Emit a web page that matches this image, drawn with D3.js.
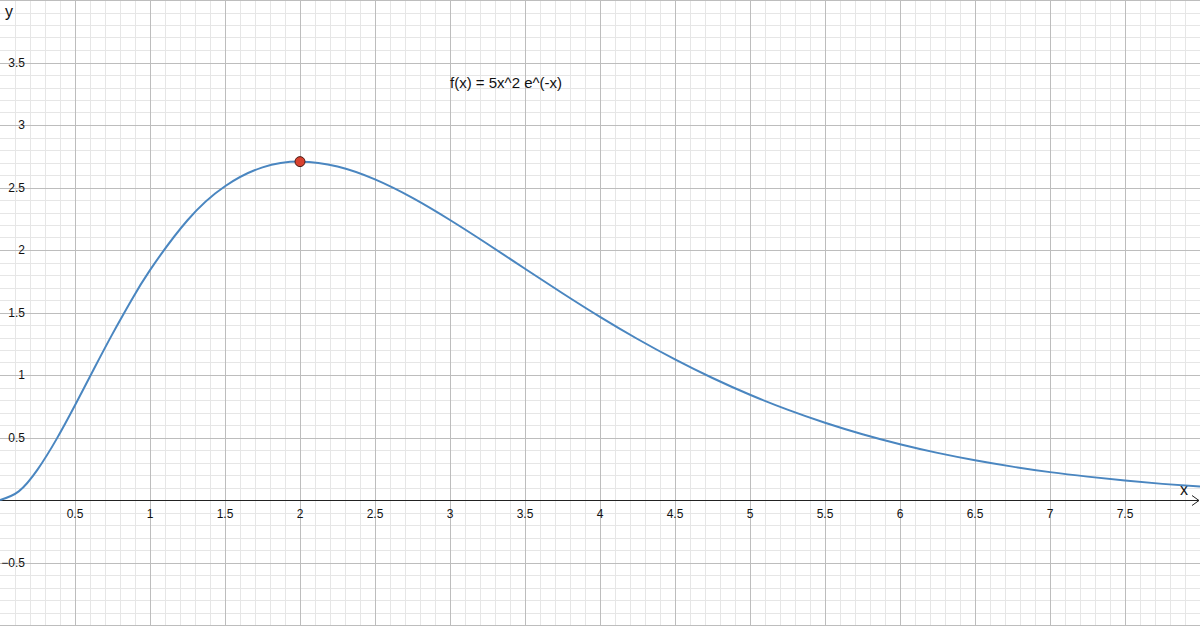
<!DOCTYPE html>
<html lang="en">
<head>
    <meta charset="UTF-8">
    <title>f(x) = 5x^2 e^(-x)</title>
    <script src="https://d3js.org/d3.v7.min.js"></script>
    <style>
        html, body { margin: 0; padding: 0; background: #fff; }
        svg { display: block; }
        text { font-family: "Liberation Sans", Arial, Helvetica, sans-serif; fill: #111; }
        .minor { stroke: #e6e6e6; stroke-width: 1; }
        .major { stroke: #bdbdbd; stroke-width: 1; }
    </style>
</head>
<body>
    <svg width="1200" height="626"></svg>

    <script>
        const xs = [0, 0.125, 0.25, 0.375, 0.5, 0.625, 0.75, 0.875, 1, 1.25, 1.5, 1.75, 2, 2.25, 2.5, 2.75,
                    3, 3.25, 3.5, 3.75, 4, 4.25, 4.5, 4.75, 5, 5.25, 5.5, 5.75, 6, 6.25, 6.5, 6.75,
                    7, 7.25, 7.5, 7.75, 8];
        const ys = [0, 0.069, 0.243, 0.483, 0.758, 1.046, 1.329, 1.596, 1.839, 2.238, 2.510, 2.661,
                    2.707, 2.668, 2.565, 2.417, 2.240, 2.048, 1.850, 1.654, 1.465, 1.288, 1.125,
                    0.976, 0.842, 0.723, 0.618, 0.526, 0.446, 0.377, 0.318, 0.267, 0.223, 0.187,
                    0.156, 0.129, 0.107];
        const peak = { x: 2, y: 2.707 };

        const xTickLabels = ["0.5", "1", "1.5", "2", "2.5", "3", "3.5", "4", "4.5", "5", "5.5", "6", "6.5", "7", "7.5"];
        const yTickLabels = ["−0.5", "0.5", "1", "1.5", "2", "2.5", "3", "3.5"];
        const title = "f(x) = 5x^2 e^(-x)";

        const W = 1200, H = 626;
        const svg = d3.select("svg");

        // 150px per unit on x, 125px per unit on y
        const x = d3.scaleLinear().domain([0, 8]).range([0, W]);
        const y = d3.scaleLinear().domain([-1.008, 4]).range([H, 0]);

        // grid: minor every 0.1, major every 0.5
        const grid = svg.append("g");
        const minorX = d3.range(1, 81).map(i => i / 10);
        const minorY = d3.range(-10, 41).map(i => i / 10);

        grid.selectAll("line.mx")
            .data(minorX.filter((d, i) => (i + 1) % 5 !== 0))
            .enter().append("line")
            .attr("class", "minor")
            .attr("x1", d => Math.round(x(d)) + 0.5).attr("x2", d => Math.round(x(d)) + 0.5)
            .attr("y1", 0).attr("y2", H);

        grid.selectAll("line.my")
            .data(minorY.filter(d => Math.round(d * 10) % 5 !== 0))
            .enter().append("line")
            .attr("class", "minor")
            .attr("y1", d => Math.round(y(d)) + 0.5).attr("y2", d => Math.round(y(d)) + 0.5)
            .attr("x1", 0).attr("x2", W);

        grid.selectAll("line.Mx")
            .data(d3.range(1, 16).map(i => i / 2))
            .enter().append("line")
            .attr("class", "major")
            .attr("x1", d => Math.round(x(d)) + 0.5).attr("x2", d => Math.round(x(d)) + 0.5)
            .attr("y1", 0).attr("y2", H);

        grid.selectAll("line.My")
            .data([-1, -0.5, 0.5, 1, 1.5, 2, 2.5, 3, 3.5, 4])
            .enter().append("line")
            .attr("class", "major")
            .attr("y1", d => Math.round(y(d)) + 0.5).attr("y2", d => Math.round(y(d)) + 0.5)
            .attr("x1", 0).attr("x2", W);

        // x axis with arrow
        const y0 = Math.round(y(0)) + 0.5;
        svg.append("line")
            .attr("x1", 0).attr("x2", W - 1)
            .attr("y1", y0).attr("y2", y0)
            .attr("stroke", "#222").attr("stroke-width", 1);
        svg.append("path")
            .attr("d", `M${W - 8},${y0 - 5} L${W - 1},${y0} L${W - 8},${y0 + 5}`)
            .attr("fill", "none").attr("stroke", "#222").attr("stroke-width", 1);

        // tick labels
        svg.append("g").selectAll("text")
            .data(xTickLabels)
            .enter().append("text")
            .attr("x", d => x(+d))
            .attr("y", y0 + 17)
            .attr("text-anchor", "middle")
            .attr("font-size", 12)
            .text(d => d);

        svg.append("g").selectAll("text")
            .data(yTickLabels)
            .enter().append("text")
            .attr("x", 25)
            .attr("y", d => y(+d.replace("−", "-")))
            .attr("dy", "0.35em")
            .attr("text-anchor", "end")
            .attr("font-size", 12)
            .text(d => d);

        // axis names
        svg.append("text").attr("x", 5).attr("y", 17).attr("font-size", 16).text("y");
        svg.append("text").attr("x", 1180).attr("y", 495).attr("font-size", 16).text("x");

        // curve
        const line = d3.line()
            .x(d => x(d[0]))
            .y(d => y(d[1]))
            .curve(d3.curveNatural);

        svg.append("path")
            .datum(xs.map((d, i) => [d, ys[i]]))
            .attr("d", line)
            .attr("fill", "none")
            .attr("stroke", "#4a86c0")
            .attr("stroke-width", 2);

        // maximum point
        svg.append("circle")
            .attr("cx", x(peak.x))
            .attr("cy", y(peak.y))
            .attr("r", 5)
            .attr("fill", "#d8412f")
            .attr("stroke", "#4a1a14")
            .attr("stroke-width", 1);

        // label
        svg.append("text")
            .attr("x", 450)
            .attr("y", 88)
            .attr("font-size", 15)
            .text(title);
    </script>
</body>
</html>
